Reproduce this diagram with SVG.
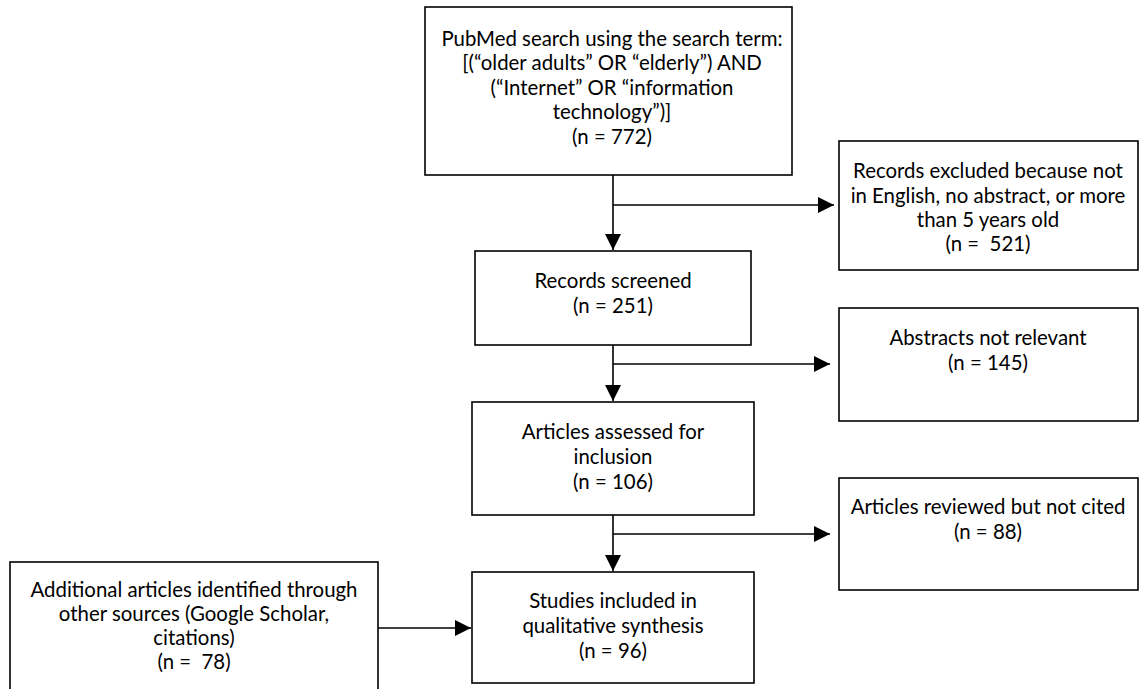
<svg xmlns="http://www.w3.org/2000/svg" width="1140" height="689" viewBox="0 0 1140 689">
<style>
.box{fill:#fff;stroke:#000;stroke-width:1.6}
.t{font-family:Lato,"Liberation Sans",sans-serif;font-size:20.4px;fill:#000;text-anchor:middle;white-space:pre}
.c{stroke:#000;stroke-width:1.6;fill:none}
</style>
<defs>
<marker id="ah" markerWidth="16" markerHeight="16" viewBox="0 0 16 16" refX="16" refY="8" orient="auto" markerUnits="userSpaceOnUse">
<path d="M0,0 L16,8 L0,16 Z" fill="#000"/>
</marker>
</defs>
<rect width="1140" height="689" fill="#fff"/>
<g id="connectors">
<line class="c" x1="613" y1="175" x2="613" y2="250" marker-end="url(#ah)"/>
<line class="c" x1="613" y1="205" x2="834" y2="205" marker-end="url(#ah)"/>
<line class="c" x1="613" y1="345" x2="613" y2="401" marker-end="url(#ah)"/>
<line class="c" x1="613" y1="364" x2="830" y2="364" marker-end="url(#ah)"/>
<line class="c" x1="613" y1="515" x2="613" y2="571" marker-end="url(#ah)"/>
<line class="c" x1="613" y1="534" x2="830" y2="534" marker-end="url(#ah)"/>
<line class="c" x1="378" y1="628" x2="471" y2="628" marker-end="url(#ah)"/>
</g>
<g id="n_pubmed">
<rect class="box" x="425" y="7" width="367" height="168"/>
<text class="t" x="612" y="46">PubMed search using the search term:</text>
<text class="t" x="612" y="70">[(“older adults” OR “elderly”) AND</text>
<text class="t" x="612" y="95">(“Internet” OR “information</text>
<text class="t" x="612" y="119">technology”)]</text>
<text class="t" x="612" y="144">(n = 772)</text>
</g>
<g id="n_excluded">
<rect class="box" x="839" y="141" width="299" height="129"/>
<text class="t" x="988" y="178">Records excluded because not</text>
<text class="t" x="988" y="203">in English, no abstract, or more</text>
<text class="t" x="988" y="227">than 5 years old</text>
<text class="t" x="988" y="251">(n =  521)</text>
</g>
<g id="n_screened">
<rect class="box" x="475" y="251" width="276" height="94"/>
<text class="t" x="613" y="288">Records screened</text>
<text class="t" x="613" y="313">(n = 251)</text>
</g>
<g id="n_notrelevant">
<rect class="box" x="839" y="308" width="299" height="113"/>
<text class="t" x="988" y="345">Abstracts not relevant</text>
<text class="t" x="988" y="370">(n = 145)</text>
</g>
<g id="n_assessed">
<rect class="box" x="472" y="402" width="282" height="113"/>
<text class="t" x="613" y="439">Articles assessed for</text>
<text class="t" x="613" y="464">inclusion</text>
<text class="t" x="613" y="489">(n = 106)</text>
</g>
<g id="n_notcited">
<rect class="box" x="839" y="478" width="299" height="112"/>
<text class="t" x="988" y="514">Articles reviewed but not cited</text>
<text class="t" x="988" y="539">(n = 88)</text>
</g>
<g id="n_additional">
<rect class="box" x="10" y="562" width="368" height="140"/>
<text class="t" x="194" y="597">Additional articles identified through</text>
<text class="t" x="194" y="621">other sources (Google Scholar,</text>
<text class="t" x="194" y="645">citations)</text>
<text class="t" x="194" y="669">(n =  78)</text>
</g>
<g id="n_included">
<rect class="box" x="472" y="572" width="282" height="111"/>
<text class="t" x="613" y="608">Studies included in</text>
<text class="t" x="613" y="633">qualitative synthesis</text>
<text class="t" x="613" y="658">(n = 96)</text>
</g>
</svg>
